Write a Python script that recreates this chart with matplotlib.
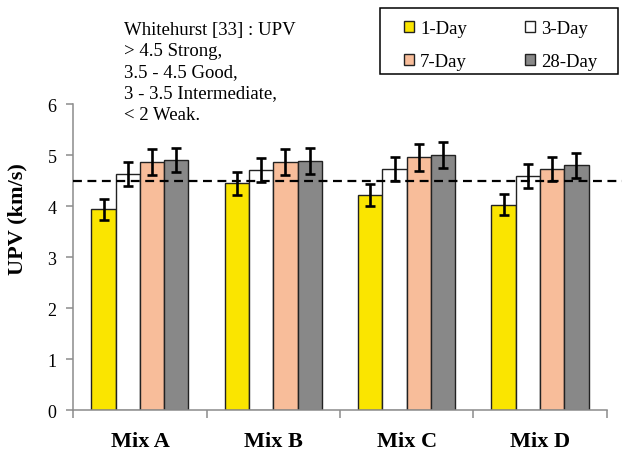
import numpy as np
import matplotlib.pyplot as plt
from matplotlib.patches import Rectangle

plt.rcParams['font.family'] = 'serif'
plt.rcParams['font.serif'] = ['Liberation Serif', 'DejaVu Serif']

mixes = ['Mix A', 'Mix B', 'Mix C', 'Mix D']
ages = ['1-Day', '3-Day', '7-Day', '28-Day']
upv_1d = [3.94, 4.45, 4.22, 4.03]
upv_3d = [4.63, 4.71, 4.73, 4.59]
upv_7d = [4.87, 4.87, 4.96, 4.73]
upv_28d = [4.91, 4.89, 5.01, 4.80]
err_1d = [0.21, 0.23, 0.22, 0.21]
err_3d = [0.24, 0.24, 0.23, 0.24]
err_7d = [0.25, 0.25, 0.26, 0.24]
err_28d = [0.24, 0.25, 0.26, 0.25]
threshold = 4.5

colors = ['#FAE500', '#FFFFFF', '#F8BD9A', '#888888']
values = [upv_1d, upv_3d, upv_7d, upv_28d]
errors = [err_1d, err_3d, err_7d, err_28d]

fig = plt.figure(figsize=(6.22, 4.52), dpi=100)
ax = fig.add_axes([0.1178, 0.0907, 0.8576, 0.6763])

x = np.arange(len(mixes))
w = 0.182
bars = []
for i in range(4):
    b = ax.bar(x + (i - 1.5) * w, values[i], w, color=colors[i],
               edgecolor='#222222', linewidth=1.0, label=ages[i], zorder=2)
    bars.append(b)
    ax.errorbar(x + (i - 1.5) * w, values[i], yerr=errors[i], fmt='none',
                ecolor='black', elinewidth=1.9, capsize=3.5, capthick=1.9, zorder=3)

# seuil Whitehurst
ax.plot([0, 1.03], [threshold, threshold], transform=ax.get_yaxis_transform(),
        color='black', linestyle=(0, (4, 2.5)), linewidth=1.6, clip_on=False, zorder=4)

ax.set_xlim(-0.5, 3.5)
ax.set_ylim(0, 6)
ax.set_yticks(range(7))
ax.set_xticks(x)
ax.set_xticklabels(mixes, fontsize=16, fontweight='bold')
ax.set_xticks(np.arange(-0.5, 4, 1), minor=True)
ax.tick_params(axis='x', which='major', length=0, pad=15)
ax.tick_params(axis='x', which='minor', length=6, color='#8c8c8c', width=1.1)
ax.tick_params(axis='y', length=5, color='#8c8c8c', width=1.1, labelsize=13, pad=7)
ax.set_ylabel('UPV (km/s)', fontsize=16, fontweight='bold')
ax.yaxis.set_label_coords(-0.085, 0.628)

for s in ['top', 'right']:
    ax.spines[s].set_visible(False)
for s in ['left', 'bottom']:
    ax.spines[s].set_color('#8c8c8c')
    ax.spines[s].set_linewidth(1.1)

fig.text(124 / 622, 0.952, 'Whitehurst [33] : UPV\n> 4.5 Strong,\n3.5 - 4.5 Good,\n'
         '3 - 3.5 Intermediate,\n< 2 Weak.', fontsize=13.5, va='top', ha='left',
         linespacing=1.33)

# legende : ordre par lignes (1-Day, 3-Day / 7-Day, 28-Day)
order = [0, 2, 1, 3]
fig.legend([bars[k] for k in order], [ages[k] for k in order],
           loc='upper left', bbox_to_anchor=(404 / 622, 1 - 21 / 452),
           ncol=2, fontsize=13.5, frameon=False,
           handlelength=0.55, handleheight=0.55, handletextpad=0.3,
           borderaxespad=0, borderpad=0, labelspacing=0.85, columnspacing=3.1)
fig.add_artist(Rectangle((380 / 622, 1 - 75 / 452), 238 / 622, 66 / 452,
                         transform=fig.transFigure, fill=False,
                         edgecolor='black', linewidth=1.1))

fig.savefig('out.png', dpi=100)
